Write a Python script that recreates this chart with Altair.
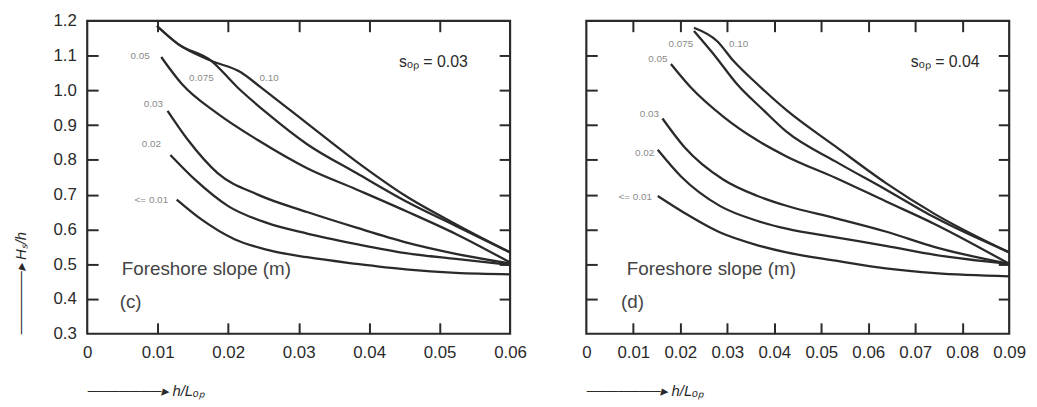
import altair as alt
import pandas as pd

# ---------------- data ----------------
SLOPES = ["0.10", "0.075", "0.05", "0.03", "0.02", "0.01"]

# Panel (c): s_op = 0.03
c_010_x = [0.0099, 0.0129, 0.0176, 0.0218, 0.0246, 0.0288, 0.0312, 0.0382, 0.0452, 0.0523, 0.0600]
c_010_y = [1.185, 1.133, 1.085, 1.052, 1.009, 0.943, 0.905, 0.795, 0.696, 0.615, 0.534]
c_0075_x = [0.0099, 0.0129, 0.0176, 0.0213, 0.0256, 0.0312, 0.0382, 0.0452, 0.0523, 0.0600]
c_0075_y = [1.185, 1.133, 1.085, 1.009, 0.933, 0.845, 0.762, 0.681, 0.610, 0.534]
c_005_x = [0.0105, 0.0134, 0.0185, 0.0242, 0.0312, 0.0382, 0.0452, 0.0523, 0.0600]
c_005_y = [1.096, 1.019, 0.933, 0.857, 0.776, 0.715, 0.653, 0.587, 0.505]
c_003_x = [0.0114, 0.0143, 0.0185, 0.0242, 0.0312, 0.0382, 0.0452, 0.0523, 0.0600]
c_003_y = [0.941, 0.857, 0.762, 0.700, 0.650, 0.605, 0.563, 0.530, 0.502]
c_002_x = [0.0118, 0.0153, 0.0200, 0.0256, 0.0312, 0.0382, 0.0452, 0.0523, 0.0600]
c_002_y = [0.814, 0.743, 0.667, 0.618, 0.588, 0.558, 0.532, 0.515, 0.498]
c_001_x = [0.0127, 0.0162, 0.0209, 0.0256, 0.0312, 0.0382, 0.0452, 0.0523, 0.0600]
c_001_y = [0.686, 0.629, 0.572, 0.541, 0.520, 0.501, 0.485, 0.475, 0.471]

# Panel (d): s_op = 0.04
d_010_x = [0.0229, 0.0278, 0.0313, 0.0363, 0.0426, 0.0531, 0.0637, 0.0742, 0.0900]
d_010_y = [1.180, 1.142, 1.085, 1.019, 0.943, 0.838, 0.734, 0.644, 0.534]
d_0075_x = [0.0229, 0.0271, 0.0320, 0.0377, 0.0426, 0.0531, 0.0637, 0.0742, 0.0900]
d_0075_y = [1.171, 1.104, 1.019, 0.943, 0.881, 0.795, 0.715, 0.634, 0.534]
d_005_x = [0.0180, 0.0222, 0.0292, 0.0363, 0.0426, 0.0531, 0.0637, 0.0742, 0.0900]
d_005_y = [1.076, 1.009, 0.924, 0.857, 0.810, 0.748, 0.681, 0.615, 0.501]
d_003_x = [0.0162, 0.0208, 0.0292, 0.0363, 0.0426, 0.0531, 0.0637, 0.0742, 0.0900]
d_003_y = [0.919, 0.838, 0.743, 0.697, 0.668, 0.632, 0.594, 0.549, 0.501]
d_002_x = [0.0152, 0.0201, 0.0285, 0.0363, 0.0426, 0.0531, 0.0637, 0.0742, 0.0900]
d_002_y = [0.829, 0.753, 0.667, 0.625, 0.602, 0.577, 0.553, 0.527, 0.501]
d_001_x = [0.0152, 0.0208, 0.0285, 0.0363, 0.0426, 0.0531, 0.0637, 0.0742, 0.0900]
d_001_y = [0.696, 0.648, 0.591, 0.555, 0.534, 0.510, 0.488, 0.474, 0.465]

# axis ticks
Y_TICKS = [0.3, 0.4, 0.5, 0.6, 0.7, 0.8, 0.9, 1.0, 1.1, 1.2]
Y_INNER = [0.4, 0.5, 0.6, 0.7, 0.8, 0.9, 1.0, 1.1]
C_XTICKS = [0.0, 0.01, 0.02, 0.03, 0.04, 0.05, 0.06]
C_XINNER = [0.01, 0.02, 0.03, 0.04, 0.05]
D_XTICKS = [0.0, 0.01, 0.02, 0.03, 0.04, 0.05, 0.06, 0.07, 0.08, 0.09]
D_XINNER = [0.01, 0.02, 0.03, 0.04, 0.05, 0.06, 0.07, 0.08]

# curve labels (text, x, y)
C_LAB_TEXT = ["0.05", "0.075", "0.10", "0.03", "0.02", "<= 0.01"]
C_LAB_X = [0.0075, 0.0162, 0.0258, 0.0094, 0.0091, 0.0091]
C_LAB_Y = [1.099, 1.035, 1.035, 0.960, 0.846, 0.684]
D_LAB_TEXT = ["0.075", "0.10", "0.05", "0.03", "0.02", "<= 0.01"]
D_LAB_X = [0.0201, 0.0324, 0.0152, 0.0134, 0.0124, 0.0104]
D_LAB_Y = [1.134, 1.132, 1.090, 0.933, 0.821, 0.693]

# annotations
C_SOP = ("sₒₚ = 0.03", 0.0540, 1.080)
D_SOP = ("sₒₚ = 0.04", 0.0837, 1.080)
C_NOTES = (["Foreshore slope (m)", "(c)"], [0.0049, 0.0046], [0.485, 0.391])
D_NOTES = (["Foreshore slope (m)", "(d)"], [0.0086, 0.0074], [0.485, 0.391])

# ---------------- styling ----------------
W, H = 427, 316
FONT = "Liberation Sans"
INK = "#2a2a2a"
LABEL_GREY = "#8a8a8a"
X_TITLE = "───────▸  h/Lₒₚ"
Y_TITLE = "──────▸  Hₛ/h"


def curves_frame(pairs):
    rows = []
    for name, xs, ys in pairs:
        for xv, yv in zip(xs, ys):
            rows.append({"m": name, "x": xv, "y": yv})
    return pd.DataFrame(rows)


def panel(df, xmax, xticks, xinner, lab, sop, notes, show_y):
    xs = alt.Scale(domain=[0, xmax], nice=False, zero=False)
    ys = alt.Scale(domain=[0.3, 1.2], nice=False, zero=False)

    x_axis = alt.Axis(
        values=xticks,
        labelExpr="datum.value == 0 ? '0' : format(datum.value, '.2f')",
        ticks=False, tickSize=0, domain=False, grid=False,
        labelFont=FONT, labelFontSize=17, labelColor=INK, labelPadding=11,
        labelFlush=False, labelOverlap=False,
        title=X_TITLE, titleAnchor="start", titleAlign="left",
        titleFont=FONT, titleFontSize=15, titleFontStyle="italic",
        titleFontWeight="normal", titleColor=INK, titlePadding=23,
    )
    if show_y:
        y_axis = alt.Axis(
            values=Y_TICKS, format=".1f",
            ticks=False, tickSize=0, domain=False, grid=False,
            labelFont=FONT, labelFontSize=17, labelColor=INK, labelPadding=11,
            labelFlush=False, labelOverlap=False,
            title=Y_TITLE, titleAnchor="start",
            titleFont=FONT, titleFontSize=15, titleFontStyle="italic",
            titleFontWeight="normal", titleColor=INK, titlePadding=25,
        )
        y_enc = alt.Y("y:Q", scale=ys, axis=y_axis)
    else:
        y_enc = alt.Y("y:Q", scale=ys, axis=None)

    lines = alt.Chart(df).mark_line(
        color=INK, strokeWidth=2.3, interpolate="monotone"
    ).encode(
        x=alt.X("x:Q", scale=xs, axis=x_axis),
        y=y_enc,
        detail="m:N",
    )

    def tick_axis(orient, values, offset):
        return alt.Axis(
            orient=orient, offset=offset, values=values,
            labels=False, domain=False, grid=False, title=None,
            ticks=True, tickSize=11, tickWidth=2, tickColor=INK,
        )

    ticks_a = alt.Chart(df).mark_line(opacity=0).encode(
        x=alt.X("x:Q", scale=xs, axis=tick_axis("top", xinner, -H)),
        y=alt.Y("y:Q", scale=ys, axis=tick_axis("right", Y_INNER, -W)),
        detail="m:N",
    )
    ticks_b = alt.Chart(df).mark_line(opacity=0).encode(
        x=alt.X("x:Q", scale=xs, axis=tick_axis("bottom", xinner, -H)),
        y=alt.Y("y:Q", scale=ys, axis=tick_axis("left", Y_INNER, -W)),
        detail="m:N",
    )

    lab_df = pd.DataFrame({"t": lab[0], "x": lab[1], "y": lab[2]})
    curve_labels = alt.Chart(lab_df).mark_text(
        font=FONT, fontSize=10, color=LABEL_GREY, align="center", baseline="middle"
    ).encode(
        x=alt.X("x:Q", scale=xs, axis=None),
        y=alt.Y("y:Q", scale=ys, axis=None),
        text="t:N",
    )

    sop_df = pd.DataFrame({"t": [sop[0]], "x": [sop[1]], "y": [sop[2]]})
    sop_text = alt.Chart(sop_df).mark_text(
        font=FONT, fontSize=16, color=INK, align="right", baseline="middle"
    ).encode(
        x=alt.X("x:Q", scale=xs, axis=None),
        y=alt.Y("y:Q", scale=ys, axis=None),
        text="t:N",
    )

    notes_df = pd.DataFrame({"t": notes[0], "x": notes[1], "y": notes[2]})
    notes_text = alt.Chart(notes_df).mark_text(
        font=FONT, fontSize=19, color="#444444", align="left", baseline="middle"
    ).encode(
        x=alt.X("x:Q", scale=xs, axis=None),
        y=alt.Y("y:Q", scale=ys, axis=None),
        text="t:N",
    )

    return alt.layer(
        lines, ticks_a, ticks_b, curve_labels, sop_text, notes_text
    ).resolve_axis(x="independent", y="independent").properties(width=W, height=H)


df_c = curves_frame([
    ("0.10", c_010_x, c_010_y), ("0.075", c_0075_x, c_0075_y),
    ("0.05", c_005_x, c_005_y), ("0.03", c_003_x, c_003_y),
    ("0.02", c_002_x, c_002_y), ("0.01", c_001_x, c_001_y),
])
df_d = curves_frame([
    ("0.10", d_010_x, d_010_y), ("0.075", d_0075_x, d_0075_y),
    ("0.05", d_005_x, d_005_y), ("0.03", d_003_x, d_003_y),
    ("0.02", d_002_x, d_002_y), ("0.01", d_001_x, d_001_y),
])

left = panel(df_c, 0.06, C_XTICKS, C_XINNER, (C_LAB_TEXT, C_LAB_X, C_LAB_Y), C_SOP, C_NOTES, True)
right = panel(df_d, 0.09, D_XTICKS, D_XINNER, (D_LAB_TEXT, D_LAB_X, D_LAB_Y), D_SOP, D_NOTES, False)

chart = alt.hconcat(left, right, spacing=77, bounds="flush").properties(
    padding={"left": 4, "top": 0, "right": 2, "bottom": 0},
    background="white",
).configure_view(stroke=INK, strokeWidth=2.2)

chart.save("out.html", embed_options={"renderer": "svg", "actions": False})
